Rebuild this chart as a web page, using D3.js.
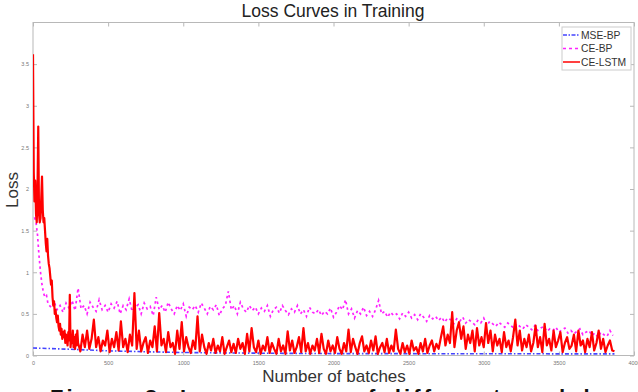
<!DOCTYPE html>
<html>
<head>
<meta charset="utf-8">
<script src="https://cdn.jsdelivr.net/npm/d3@7"></script>
<style>
html,body{margin:0;padding:0;background:#fff;}
svg{display:block;}
</style>
</head>
<body>
<svg id="chart" width="638" height="392"></svg>
<script>
// ---------- data ----------
const xTicks = [0, 500, 1000, 1500, 2000, 2500, 3000, 3500, 4000];
const yTicks = [0, 0.5, 1, 1.5, 2, 2.5, 3, 3.5];
const seriesNames = ["MSE-BP", "CE-BP", "CE-LSTM"];

// MSE-BP (blue, dash-dot)
const mseBatches = [0, 250, 500, 750, 1000, 1250, 1500, 1750, 2000, 2500, 3000, 3500, 3870];
const mseLoss    = [0.09, 0.075, 0.056, 0.045, 0.036, 0.031, 0.028, 0.025, 0.023, 0.022, 0.021, 0.02, 0.02];

// CE-BP (magenta, dashed) early part
const cebpEarlyBatches = [10, 20, 30, 40, 50, 60, 70, 80, 90];
const cebpEarly = [1.66, 1.6, 1.45, 1.2, 1.0, 0.85, 0.75, 0.7, 0.72];
// CE-BP from batch 100 every 20 batches
const cebpLate = [
  0.62,0.58,0.65,0.55,0.6,0.52,0.63,0.57,0.66,0.54,
  0.81,0.56,0.6,0.5,0.64,0.58,0.53,0.67,0.55,0.6,
  0.52,0.62,0.57,0.65,0.5,0.6,0.55,0.68,0.53,0.58,
  0.61,0.5,0.63,0.56,0.59,0.48,0.7,0.55,0.6,0.52,
  0.64,0.56,0.5,0.6,0.54,0.62,0.47,0.58,0.55,0.6,
  0.52,0.63,0.57,0.5,0.59,0.55,0.61,0.48,0.56,0.6,
  0.77,0.55,0.6,0.5,0.64,0.56,0.52,0.6,0.54,0.58,
  0.5,0.57,0.53,0.6,0.47,0.55,0.58,0.51,0.6,0.54,
  0.49,0.56,0.52,0.6,0.5,0.55,0.47,0.58,0.52,0.5,
  0.55,0.48,0.53,0.5,0.57,0.46,0.52,0.6,0.55,0.67,
  0.5,0.56,0.45,0.54,0.5,0.58,0.48,0.53,0.47,0.55,
  0.66,0.5,0.53,0.46,0.52,0.48,0.5,0.44,0.51,0.47,
  0.52,0.45,0.49,0.43,0.5,0.46,0.41,0.48,0.44,0.47,
  0.42,0.46,0.4,0.45,0.43,0.38,0.44,0.41,0.46,0.39,
  0.43,0.4,0.37,0.42,0.39,0.45,0.36,0.41,0.38,0.35,
  0.4,0.37,0.34,0.39,0.36,0.33,0.38,0.35,0.32,0.37,
  0.34,0.31,0.36,0.3,0.33,0.35,0.29,0.32,0.3,0.34,
  0.28,0.31,0.33,0.27,0.3,0.26,0.29,0.32,0.25,0.28,
  0.3,0.24,0.27,0.22,0.28,0.25,0.23,0.3,0.24
];

// CE-LSTM (red, solid) from batch 0 every 5 batches (0..295)
const lstmEarly = [
  3.62,2.2,1.85,2.1,1.7,1.6,2.0,2.75,1.7,1.6,
  1.65,1.9,2.15,1.75,1.6,1.65,1.5,1.35,1.25,1.4,
  1.2,1.1,1.05,0.95,0.85,0.9,0.7,0.6,0.65,0.5,
  0.55,0.45,0.4,0.48,0.35,0.3,0.38,0.25,0.32,0.2,
  0.28,0.22,0.3,0.15,0.25,0.2,0.12,0.28,0.18,0.73,
  0.1,0.2,0.15,0.3,0.1,0.22,0.08,0.25,0.12,0.3
];
// CE-LSTM from batch 300 every 15 batches (300..3870)
const lstmLate = [
  0.15,0.05,0.25,0.1,0.3,0.08,0.2,0.43,0.1,0.22,
  0.05,0.18,0.12,0.3,0.04,0.2,0.1,0.28,0.06,0.41,
  0.1,0.2,0.04,0.25,0.12,0.75,0.08,0.3,0.05,0.15,
  0.22,0.03,0.18,0.1,0.35,0.05,0.51,0.12,0.2,0.04,
  0.28,0.1,0.15,0.02,0.3,0.08,0.4,0.05,0.22,0.1,
  0.03,0.18,0.08,0.47,0.05,0.25,0.1,0.02,0.15,0.06,
  0.2,0.03,0.12,0.05,0.22,0.02,0.1,0.18,0.04,0.14,
  0.03,0.2,0.08,0.15,0.02,0.26,0.05,0.33,0.1,0.04,
  0.18,0.02,0.12,0.06,0.22,0.03,0.15,0.08,0.02,0.2,
  0.05,0.12,0.02,0.29,0.06,0.18,0.03,0.1,0.22,0.04,
  0.33,0.05,0.15,0.02,0.12,0.06,0.2,0.03,0.26,0.08,
  0.02,0.18,0.05,0.12,0.03,0.22,0.08,0.02,0.15,0.05,
  0.31,0.04,0.2,0.1,0.02,0.15,0.23,0.05,0.12,0.03,
  0.18,0.06,0.23,0.02,0.1,0.15,0.04,0.2,0.03,0.12,
  0.05,0.31,0.08,0.02,0.15,0.04,0.12,0.02,0.18,0.06,
  0.1,0.02,0.15,0.05,0.2,0.03,0.12,0.18,0.05,0.14,
  0.08,0.22,0.35,0.12,0.25,0.15,0.52,0.1,0.3,0.4,
  0.2,0.35,0.08,0.25,0.15,0.3,0.05,0.33,0.12,0.22,
  0.1,0.39,0.15,0.3,0.05,0.25,0.12,0.2,0.04,0.28,
  0.1,0.18,0.05,0.22,0.43,0.12,0.3,0.06,0.2,0.1,
  0.25,0.05,0.15,0.36,0.1,0.22,0.04,0.38,0.12,0.2,
  0.06,0.3,0.1,0.18,0.28,0.04,0.15,0.22,0.08,0.12,
  0.25,0.05,0.3,0.12,0.18,0.04,0.2,0.1,0.28,0.06,
  0.15,0.3,0.08,0.2,0.04,0.12,0.18,0.06,0.05
];

// ---------- build point lists ----------
const msePts = mseBatches.map((b, i) => [b, mseLoss[i]]);
const cebpPts = cebpEarlyBatches.map((b, i) => [b, cebpEarly[i]])
  .concat(cebpLate.map((v, i) => [100 + i * 20, v]));
const lstmPts = lstmEarly.map((v, i) => [i * 5, v])
  .concat(lstmLate.map((v, i) => [300 + i * 15, v]));

// ---------- layout ----------
const svg = d3.select("#chart");
const L = 33, R = 634, T = 22.5, B = 355.5;
const x = d3.scaleLinear().domain([0, 4000]).range([L, R]);
const y = d3.scaleLinear().domain([0, 4]).range([B, T]);
const font = "Liberation Sans, Arial, Helvetica, sans-serif";
const axisCol = "#b8b8b8";

// title
svg.append("text").attr("x", 333).attr("y", 17).attr("text-anchor", "middle")
  .attr("font-family", font).attr("font-size", 17.5).attr("fill", "#222")
  .text("Loss Curves in Training");

// clip
svg.append("defs").append("clipPath").attr("id", "clip")
  .append("rect").attr("x", L).attr("y", T).attr("width", R - L).attr("height", B - T);

// axes (inward ticks) via d3 axes
const gx = svg.append("g").attr("transform", `translate(0,${B})`)
  .call(d3.axisBottom(x).tickValues(xTicks).tickSize(-4).tickPadding(6).tickFormat(d3.format("d")));
const gxTop = svg.append("g").attr("transform", `translate(0,${T})`)
  .call(d3.axisTop(x).tickValues(xTicks).tickSize(-4).tickFormat(""));
const gy = svg.append("g").attr("transform", `translate(${L},0)`)
  .call(d3.axisLeft(y).tickValues(yTicks).tickSize(-4).tickPadding(4).tickFormat(d => d === 0 ? "0" : String(d)));
const gyR = svg.append("g").attr("transform", `translate(${R},0)`)
  .call(d3.axisRight(y).tickValues(yTicks).tickSize(-4).tickFormat(""));
[gx, gxTop, gy, gyR].forEach(g => {
  g.select(".domain").remove();
  g.selectAll(".tick line").attr("stroke", axisCol);
  g.selectAll(".tick text").attr("font-family", font).attr("font-size", 5.5).attr("fill", "#777");
});

// frame
svg.append("rect").attr("x", L).attr("y", T).attr("width", R - L).attr("height", B - T)
  .attr("fill", "none").attr("stroke", axisCol).attr("stroke-width", 1);

// lines
const line = d3.line().x(d => x(d[0])).y(d => y(d[1]));
const plot = svg.append("g").attr("clip-path", "url(#clip)");
plot.append("path").datum(msePts).attr("d", line)
  .attr("fill", "none").attr("stroke", "#4444ff").attr("stroke-width", 1.6)
  .attr("stroke-dasharray", "4,2,1.5,2");
plot.append("path").datum(cebpPts).attr("d", line)
  .attr("fill", "none").attr("stroke", "#ff22ff").attr("stroke-width", 1.7)
  .attr("stroke-dasharray", "2.5,3");
plot.append("path").datum(lstmPts).attr("d", line)
  .attr("fill", "none").attr("stroke", "#ff0000").attr("stroke-width", 2.2)
  .attr("stroke-linejoin", "round");

// axis labels
svg.append("text").attr("x", 334).attr("y", 382).attr("text-anchor", "middle")
  .attr("font-family", font).attr("font-size", 17).attr("fill", "#333")
  .text("Number of batches");
svg.append("text").attr("transform", "translate(18,190) rotate(-90)").attr("text-anchor", "middle")
  .attr("font-family", font).attr("font-size", 17).attr("fill", "#333")
  .text("Loss");

// legend
const lg = svg.append("g");
lg.append("rect").attr("x", 562).attr("y", 27).attr("width", 69).attr("height", 43)
  .attr("fill", "#fff").attr("stroke", "#cccccc").attr("stroke-width", 1);
const legStyles = [
  {c: "#4444ff", dash: "4,1.5,1.5,1.5"},
  {c: "#ff22ff", dash: "3,3"},
  {c: "#ff0000", dash: null}
];
seriesNames.forEach((n, i) => {
  const yy = 35 + i * 13.5;
  const ln = lg.append("line").attr("x1", 563).attr("x2", 580).attr("y1", yy).attr("y2", yy)
    .attr("stroke", legStyles[i].c).attr("stroke-width", 1.5);
  if (legStyles[i].dash) ln.attr("stroke-dasharray", legStyles[i].dash);
  lg.append("text").attr("x", 581).attr("y", yy + 3.6)
    .attr("font-family", font).attr("font-size", 10.3).attr("fill", "#333").text(n);
});

// caption (cut off at bottom of image, as in the reference)
svg.append("text").attr("x", 50).attr("y", 404.5)
  .attr("font-family", font).attr("font-size", 22).attr("font-weight", "bold").attr("fill", "#111")
  .attr("textLength", 555).attr("lengthAdjust", "spacing")
  .text("Figure 3: Loss curves of different models");
</script>
</body>
</html>
